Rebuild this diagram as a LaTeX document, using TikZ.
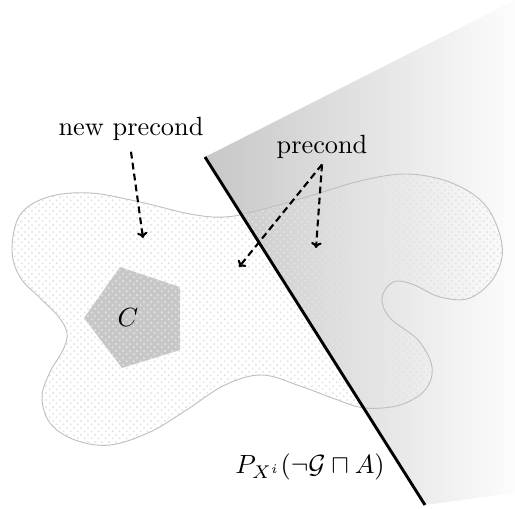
\documentclass[tikz,border=0pt]{standalone}
\usetikzlibrary{patterns.meta,arrows.meta}
\tikzdeclarepattern{name=smalldots, type=uncolored,
  bounding box={(0pt,0pt) and (2.6pt,2.6pt)},
  tile size={(2.6pt,2.6pt)},
  code={\fill (0.65pt,0.65pt) circle (0.42pt);
        \fill (1.95pt,1.95pt) circle (0.42pt);}}
\tikzset{
  lbl/.style={inner sep=1pt},
  ptr/.style={thick, dash pattern=on 2.6pt off 1.6pt, -{To[length=2.2pt,width=4pt]}},
  blobline/.style={draw=black!25, line width=0.35pt},
  blobfill/.style={pattern={smalldots}, pattern color=black!11},
}
\begin{document}
\begin{tikzpicture}[x=0.38pt,y=-0.38pt]
\useasboundingbox (0,0) rectangle (515,508);
% half-space shading
\shade[left color=black!22, right color=black!1, shading angle=90]
  (205,157) -- (515,0) -- (515,493) -- (425,505) -- cycle;
% pentagon C
\fill[black!22] (120,267) -- (180,287) -- (180,350) -- (122,368) -- (84,318) -- cycle;
% blob
\path[blobfill, blobline] plot[smooth cycle, tension=0.6] coordinates {
 (90,193) (140,202) (190,214) (225,217) (260,210) (310,196) (360,181)
 (407,174) (452,183) (486,206) (502,245) (495,276) (470,298) (440,297)
 (412,284) (393,282) (382,298) (390,318) (418,340) (432,367) (425,390)
 (400,405) (365,408) (335,399) (300,386) (262,375) (225,385) (185,411)
 (150,432) (110,445) (75,440) (50,423) (42,397) (50,372) (63,350)
 (67,333) (58,316) (40,298) (20,277) (12,250) (20,215) (48,197)};
% separating line
\coordinate (ltop) at (205,157);
\coordinate (lbot) at (425,505);
\draw[line width=1.1pt] (ltop) -- (lbot);
% labels
\node[lbl] (C) at (128,318) {$C$};
\node[lbl] (newp) at (131,129) {new precond};
\node[lbl] (prec) at (322,147) {precond};
\node[lbl] (P) at (310,467) {$P_{X^i}(\neg\mathcal{G}\sqcap A)$};
% arrows
\coordinate (a1) at (143,238);
\coordinate (a2) at (239,267);
\coordinate (a3) at (316,248);
\draw[ptr] ([yshift=-3pt]newp.south) -- (a1);
\draw[ptr] ([yshift=-1pt]prec.south) -- (a2);
\draw[ptr] ([yshift=-1pt]prec.south) -- (a3);
\end{tikzpicture}
\end{document}
